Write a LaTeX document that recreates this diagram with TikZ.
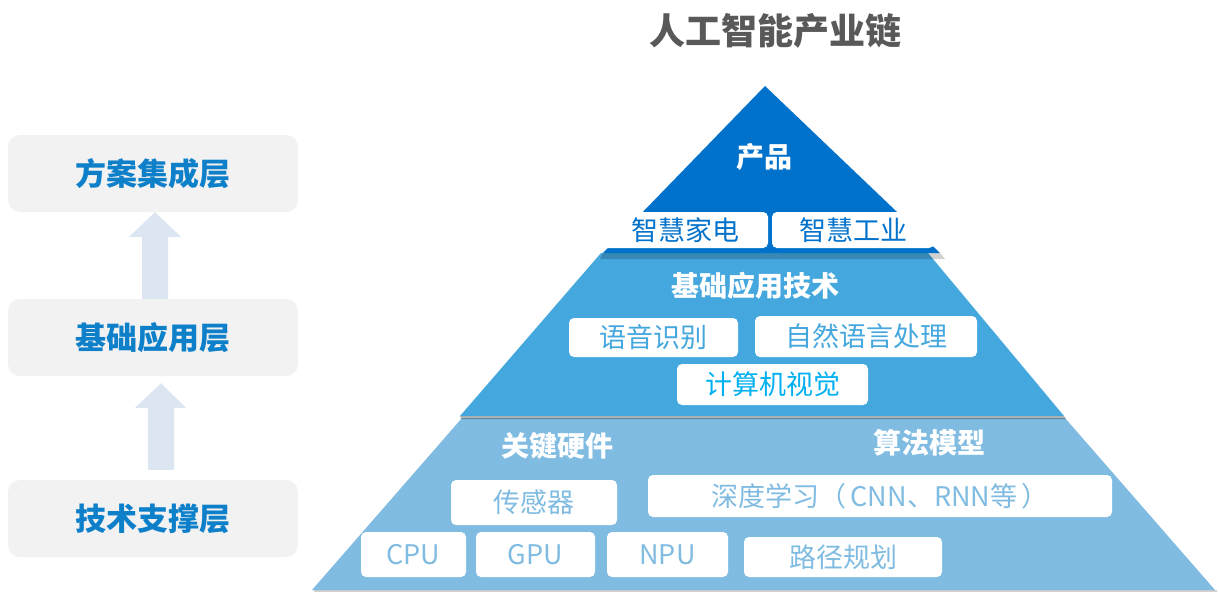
\documentclass[tikz,border=0pt]{standalone}
\usepackage{fontspec}
\setmainfont{Noto Sans CJK SC}
\usetikzlibrary{calc}
\definecolor{topblue}{RGB}{0,114,204}
\definecolor{midblue}{RGB}{68,167,222}
\definecolor{botblue}{RGB}{128,188,226}
\definecolor{cyanblue}{RGB}{0,176,240}
\definecolor{labelblue}{RGB}{14,128,202}
\definecolor{boxgray}{RGB}{242,242,242}
\definecolor{arrowgray}{RGB}{220,230,242}
\definecolor{titlegray}{RGB}{89,89,89}
\begin{document}
\begin{tikzpicture}[x=1pt,y=-1pt,
  wbox/.style={fill=white, rounded corners=5pt, inner sep=0pt, font=\fontsize{27}{30}\selectfont},
  layerlabel/.style={text=white, font=\fontsize{28}{30}\selectfont\bfseries, inner sep=0pt},
  leftbox/.style={fill=boxgray, rounded corners=12pt, minimum width=290pt, minimum height=77pt, inner sep=0pt,
                  text=labelblue, font=\fontsize{31}{34}\selectfont\bfseries},
  shadowfill/.style={fill=black, opacity=0.18},
  blockarrow/.style={fill=arrowgray}]
\useasboundingbox (0,0) rectangle (1219,592);

% title
\node[text=titlegray, font=\fontsize{36}{40}\selectfont\bfseries, inner sep=0pt] (title) at (775,31) {人工智能产业链};

% layers
\fill[botblue] (462,418) -- (1065,418) -- (1215,590) -- (312,590) -- cycle;
\fill[shadowfill] (314,590) -- (1217,590) -- (1217,592) -- (314,592) -- cycle;
\fill[midblue] (601,253) -- (928,253) -- (1064,416) -- (460,416) -- cycle;
\fill[black, opacity=0.28] (460,416) -- (1064,416) -- (1066,419) -- (461,419) -- cycle;
\fill[shadowfill] (603,253) -- (940,253) -- (945,259) -- (600,259) -- cycle;
\fill[topblue] (765,86) -- (940,253) -- (603,253) -- cycle;

% top layer
\node[layerlabel] (prod) at (764,157) {产品};
\node[wbox, text=topblue, minimum width=166pt, minimum height=36pt] (jd) at (685,230) {智慧家电};
\node[wbox, text=topblue, minimum width=162pt, minimum height=36pt] (gy) at (853,230) {智慧工业};

% middle layer
\node[layerlabel] (jcyy) at (755,286) {基础应用技术};
\node[wbox, text=midblue, minimum width=169pt, minimum height=39pt] (yysb) at (653.5,337.5) {语音识别};
\node[wbox, text=midblue, minimum width=222pt, minimum height=41pt] (zryy) at (866,336.5) {自然语言处理};
\node[wbox, text=cyanblue, minimum width=191pt, minimum height=41pt] (jsj) at (772.5,384.5) {计算机视觉};

% bottom layer
\node[layerlabel] (gjyj) at (557,446) {关键硬件};
\node[layerlabel] (sfmx) at (929,443) {算法模型};
\node[wbox, text=botblue, minimum width=166pt, minimum height=45pt] (cgq) at (534,502.5) {传感器};
\node[wbox, text=botblue, minimum width=464pt, minimum height=42pt] (sdxx) at (880,496) {深度学习（\,CNN、RNN等\,）};
\node[wbox, text=botblue, minimum width=105pt, minimum height=45pt] (cpu) at (413.5,554.5) {CPU};
\node[wbox, text=botblue, minimum width=119pt, minimum height=45pt] (gpu) at (535.5,554.5) {GPU};
\node[wbox, text=botblue, minimum width=121pt, minimum height=45pt] (npu) at (667.5,554.5) {NPU};
\node[wbox, text=botblue, minimum width=198pt, minimum height=40pt] (ljgh) at (843,557) {路径规划};

% left column
\node[leftbox] (l1) at (153,173.5) {方案集成层};
\node[leftbox] (l2) at (153,337.5) {基础应用层};
\node[leftbox] (l3) at (153,518.5) {技术支撑层};

\fill[blockarrow] ($(l2.north)+(-11,0)$) -- ++(0,-62) -- ++(-13,0) -- ($(l1.south)+(2,0)$) -- ($(l2.north)+(28,-62)$) -- ++(-13,0) -- ++(0,62) -- cycle;
\fill[blockarrow] ($(l3.north)+(-5,-10)$) -- ++(0,-62) -- ++(-13,0) -- ($(l2.south)+(8,7)$) -- ($(l3.north)+(33,-72)$) -- ++(-12,0) -- ++(0,62) -- cycle;
\end{tikzpicture}
\end{document}
